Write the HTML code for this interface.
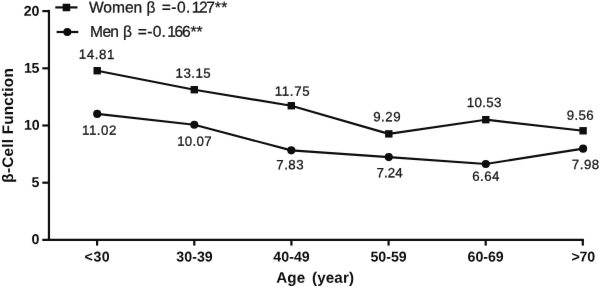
<!DOCTYPE html>
<html><head><meta charset="utf-8"><title>chart</title>
<style>
html,body{margin:0;padding:0;background:#fff;}
body{width:600px;height:288px;overflow:hidden;font-family:"Liberation Sans",sans-serif;}
svg{display:block;will-change:transform;transform:translateZ(0);}
text{font-family:"Liberation Sans",sans-serif;white-space:pre;text-rendering:geometricPrecision;}
.ax{font-weight:bold;font-size:14.2px;fill:#0d0d0d;}
.ttl{font-weight:bold;font-size:15.2px;fill:#0d0d0d;}
.dl{font-size:13.3px;fill:#161616;stroke:#161616;stroke-width:0.27px;}
.lg{font-size:15.6px;fill:#161616;stroke:#161616;stroke-width:0.27px;}
</style></head><body>
<svg width="600" height="288" viewBox="0 0 600 288">
<defs><filter id="soft" x="0" y="0" width="600" height="288" filterUnits="userSpaceOnUse" color-interpolation-filters="sRGB"><feConvolveMatrix order="3" kernelMatrix="0.00163 0.03713 0.00163 0.03713 0.84497 0.03713 0.00163 0.03713 0.00163" divisor="1" edgeMode="duplicate" preserveAlpha="false"/></filter></defs>
<g filter="url(#soft)">
<rect id="bg" x="0" y="0" width="600" height="288" fill="#fff"/>
<g id="gfx">
<g stroke="#0d0d0d" stroke-width="2.2" fill="none" stroke-linecap="butt">
<path d="M48.95 9.8 V241.0"/>
<path d="M42.3 239.9 H583.9"/>
<path d="M42.3 182.70 H48.95"/>
<path d="M42.3 125.50 H48.95"/>
<path d="M42.3 68.30 H48.95"/>
<path d="M42.3 11.10 H48.95"/>
<path d="M97.10 239.9 V245.6"/>
<path d="M194.30 239.9 V245.6"/>
<path d="M291.40 239.9 V245.6"/>
<path d="M388.60 239.9 V245.6"/>
<path d="M485.70 239.9 V245.6"/>
<path d="M582.80 239.9 V245.6"/>
</g>
<polyline points="97.20,70.72 194.30,89.71 291.30,105.73 388.80,133.87 485.80,119.69 583.10,130.78" fill="none" stroke="#0d0d0d" stroke-width="2.15" stroke-linejoin="round"/>
<polyline points="97.20,113.88 194.30,124.75 291.30,150.37 388.80,157.12 485.80,163.99 583.10,148.66" fill="none" stroke="#0d0d0d" stroke-width="2.15" stroke-linejoin="round"/>
<rect x="93.50" y="67.02" width="7.4" height="7.4" fill="#0d0d0d"/>
<rect x="190.60" y="86.01" width="7.4" height="7.4" fill="#0d0d0d"/>
<rect x="287.60" y="102.03" width="7.4" height="7.4" fill="#0d0d0d"/>
<rect x="385.10" y="130.17" width="7.4" height="7.4" fill="#0d0d0d"/>
<rect x="482.10" y="115.99" width="7.4" height="7.4" fill="#0d0d0d"/>
<rect x="579.40" y="127.08" width="7.4" height="7.4" fill="#0d0d0d"/>
<circle cx="97.20" cy="113.88" r="4.05" fill="#0d0d0d"/>
<circle cx="194.30" cy="124.75" r="4.05" fill="#0d0d0d"/>
<circle cx="291.30" cy="150.37" r="4.05" fill="#0d0d0d"/>
<circle cx="388.80" cy="157.12" r="4.05" fill="#0d0d0d"/>
<circle cx="485.80" cy="163.99" r="4.05" fill="#0d0d0d"/>
<circle cx="583.10" cy="148.66" r="4.05" fill="#0d0d0d"/>
<path d="M55.3 7.4 H77.5" stroke="#0d0d0d" stroke-width="2.2"/>
<rect x="62.65" y="3.75" width="7.6" height="7.5" fill="#0d0d0d"/>
<path d="M56.6 32 H78.3" stroke="#0d0d0d" stroke-width="2.2"/>
<circle cx="67.3" cy="32.05" r="4" fill="#0d0d0d"/>
</g>
<text id="yt" class="ttl" style="font-size:15.3px" letter-spacing="0.22" transform="translate(12.6 125.35) rotate(-90)" text-anchor="middle">β-Cell Function</text>
<text id="w0" class="dl" x="78.77" y="58.89" letter-spacing="0.605" transform="rotate(0.03 78.77 58.89)">14.81</text>
<text id="w1" class="dl" x="175.62" y="77.78" letter-spacing="0.467" transform="rotate(0.03 175.62 77.78)">13.15</text>
<text id="w2" class="dl" x="274.73" y="95.71" letter-spacing="0.651" transform="rotate(0.03 274.73 95.71)">11.75</text>
<text id="w3" class="dl" x="373.26" y="121.28" letter-spacing="0.465" transform="rotate(0.03 373.26 121.28)">9.29</text>
<text id="w4" class="dl" x="466.76" y="107.09" letter-spacing="0.372" transform="rotate(0.03 466.76 107.09)">10.53</text>
<text id="w5" class="dl" x="566.77" y="119.63" letter-spacing="0.367" transform="rotate(0.03 566.77 119.63)">9.56</text>
<text id="m0" class="dl" x="82.07" y="134.72" letter-spacing="0.496" transform="rotate(0.03 82.07 134.72)">11.02</text>
<text id="m1" class="dl" x="177.13" y="145.75" letter-spacing="0.288" transform="rotate(0.03 177.13 145.75)">10.07</text>
<text id="m2" class="dl" x="276.25" y="169.17" letter-spacing="0.511" transform="rotate(0.03 276.25 169.17)">7.83</text>
<text id="m3" class="dl" x="376.43" y="177.13" letter-spacing="0.138" transform="rotate(0.03 376.43 177.13)">7.24</text>
<text id="m4" class="dl" x="472.28" y="180.64" letter-spacing="0.441" transform="rotate(0.03 472.28 180.64)">6.64</text>
<text id="m5" class="dl" x="571.85" y="169.09" letter-spacing="0.509" transform="rotate(0.03 571.85 169.09)">7.98</text>
<text id="x0" class="ax" x="84.60" y="261.52" letter-spacing="0.546" transform="rotate(0.03 84.60 261.52)">&lt;30</text>
<text id="x1" class="ax" x="176.35" y="261.47" letter-spacing="0.012" transform="rotate(0.03 176.35 261.47)">30-39</text>
<text id="x2" class="ax" x="273.34" y="261.57" letter-spacing="0.019" transform="rotate(0.03 273.34 261.57)">40-49</text>
<text id="x3" class="ax" x="370.49" y="261.52" letter-spacing="-0.010" transform="rotate(0.03 370.49 261.52)">50-59</text>
<text id="x4" class="ax" x="467.55" y="261.52" letter-spacing="-0.026" transform="rotate(0.03 467.55 261.52)">60-69</text>
<text id="x5" class="ax" x="571.53" y="261.61" letter-spacing="-0.264" transform="rotate(0.03 571.53 261.61)">&gt;70</text>
<text id="y0" class="ax" x="31.62" y="244.05" transform="rotate(0.03 31.62 244.05)">0</text>
<text id="y5" class="ax" x="31.45" y="187.02" transform="rotate(0.03 31.45 187.02)">5</text>
<text id="y10" class="ax" x="23.94" y="129.74" letter-spacing="-0.074" transform="rotate(0.03 23.94 129.74)">10</text>
<text id="y15" class="ax" x="23.93" y="72.76" letter-spacing="-0.239" transform="rotate(0.03 23.93 72.76)">15</text>
<text id="y20" class="ax" x="23.86" y="15.80" letter-spacing="-0.361" transform="rotate(0.03 23.86 15.80)">20</text>
<text id="t1" class="ttl" x="276.15" y="282.85" letter-spacing="0.146" transform="rotate(0.03 276.15 282.85)">Age</text>
<text id="t2" class="ttl" x="311.98" y="282.85" letter-spacing="0.150" transform="rotate(0.03 311.98 282.85)">(year)</text>
<text id="l1" class="lg" x="88.96" y="12.55" letter-spacing="-0.038" transform="rotate(0.03 88.96 12.55)">Women</text>
<text id="l2" class="lg" x="146.59" y="12.55" transform="rotate(0.03 146.59 12.55)">β</text>
<text id="l3" class="lg" x="161.65" y="12.55" letter-spacing="0.476" transform="rotate(0.03 161.65 12.55)">=-0.</text>
<text id="l3b" class="lg" x="191.73" y="12.55" letter-spacing="-1.455" transform="rotate(0.03 191.73 12.55)">127</text>
<text id="l3c" class="lg" x="214.70" y="12.55" letter-spacing="0.478" transform="rotate(0.03 214.70 12.55)">**</text>
<text id="l4" class="lg" x="90.09" y="36.74" letter-spacing="-0.689" transform="rotate(0.03 90.09 36.74)">Men</text>
<text id="l5" class="lg" x="122.94" y="36.74" transform="rotate(0.03 122.94 36.74)">β</text>
<text id="l6" class="lg" x="137.85" y="36.74" letter-spacing="0.264" transform="rotate(0.03 137.85 36.74)">=-0.</text>
<text id="l6b" class="lg" x="167.19" y="36.74" letter-spacing="-1.254" transform="rotate(0.03 167.19 36.74)">166</text>
<text id="l6c" class="lg" x="190.62" y="36.74" letter-spacing="-0.288" transform="rotate(0.03 190.62 36.74)">**</text>
</g></svg></body></html>
